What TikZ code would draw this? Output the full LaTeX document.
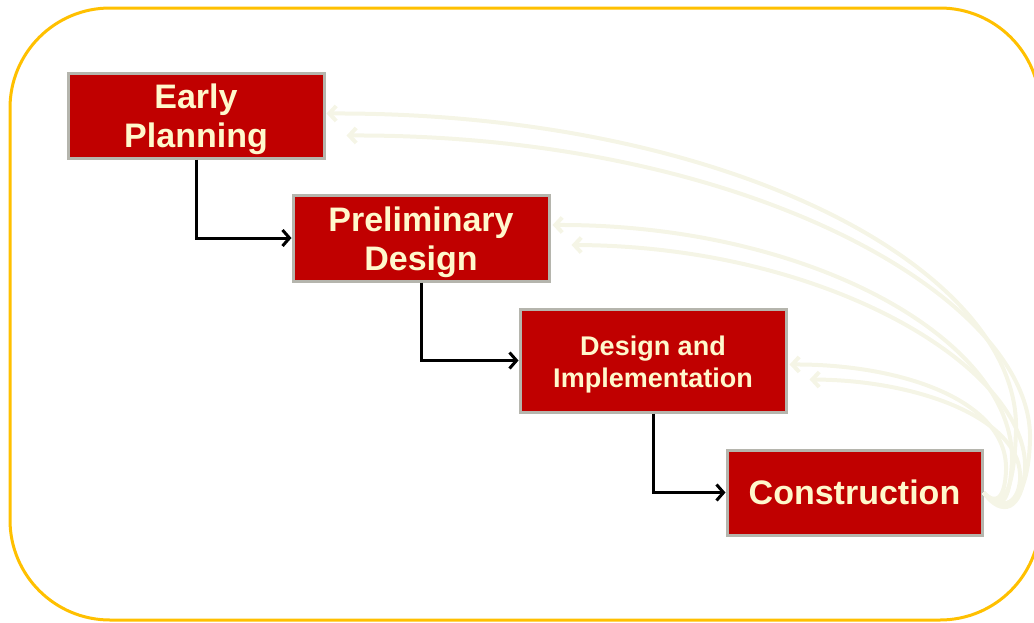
\documentclass[tikz,border=0pt]{standalone}
\usepackage{fontspec}
\setmainfont{Liberation Sans}
\usetikzlibrary{arrows.meta,calc}
\definecolor{boxred}{HTML}{C00000}
\definecolor{boxgrey}{HTML}{B5B5AD}
\definecolor{cream}{HTML}{FFF8CC}
\definecolor{gold}{HTML}{FFC000}
\definecolor{faintline}{HTML}{F5F5E6}
\begin{document}
\begin{tikzpicture}[x=1pt,y=-1pt,
  stagebox/.style={draw=boxgrey, line width=3pt, fill=boxred, text=cream, align=center, inner sep=0pt},
  conn/.style={line width=3pt, -{Straight Barb[length=7pt,width=16pt]}},
  faintarrow/.style={draw=faintline, line width=4pt, -{Straight Barb[length=7pt,width=15pt]}}]
\useasboundingbox (0,0) rectangle (1034,622);
\draw[gold, line width=3pt, rounded corners=100pt] (10,8) rectangle (1040,620);
% boxes
\node[stagebox, minimum width=256pt, minimum height=85pt, font=\bfseries\fontsize{34}{39}\selectfont] (ep) at (196,115.5) {\rule{0pt}{33pt}Early\\Planning};
\node[stagebox, minimum width=256pt, minimum height=86pt, font=\bfseries\fontsize{34}{39}\selectfont] (pd) at (421,238) {\rule{0pt}{34pt}Preliminary\\Design};
\node[stagebox, minimum width=266pt, minimum height=103pt, font=\bfseries\fontsize{27}{32}\selectfont] (di) at (653,360.5) {\rule{0pt}{28pt}Design and\\Implementation};
\node[stagebox, minimum width=255pt, minimum height=85pt, font=\bfseries\fontsize{34}{38}\selectfont] (c) at (854.5,492.5) {Construction};
% faint feedback arrows
\draw[faintarrow] (c.east) .. controls (1000,510) and (1014,500) .. (1016,430) .. controls (1020,270) and (730,112) .. ($(ep.east)+(1,-2)$);
\draw[faintarrow] (c.east) .. controls (1005,515) and (1028,505) .. (1030,440) .. controls (1034,300) and (750,134) .. ($(ep.east)+(21,20)$);
\draw[faintarrow] (c.east) .. controls (1000,512) and (1010,505) .. (1012,460) .. controls (1014,340) and (810,224) .. ($(pd.east)+(2,-13)$);
\draw[faintarrow] (c.east) .. controls (1002,518) and (1022,510) .. (1025,470) .. controls (1030,370) and (830,246) .. ($(pd.east)+(21,7)$);
\draw[faintarrow] (c.east) .. controls (995,505) and (1005,500) .. (1006,470) .. controls (1008,400) and (900,364) .. ($(di.east)+(2,4)$);
\draw[faintarrow] (c.east) .. controls (1000,512) and (1018,505) .. (1020,480) .. controls (1024,420) and (920,380) .. ($(di.east)+(22,19)$);
% flow connectors
\draw[conn] (ep.south) |- (pd.west);
\draw[conn] (pd.south) |- (di.west);
\draw[conn] (di.south) |- (c.west);
\end{tikzpicture}
\end{document}
